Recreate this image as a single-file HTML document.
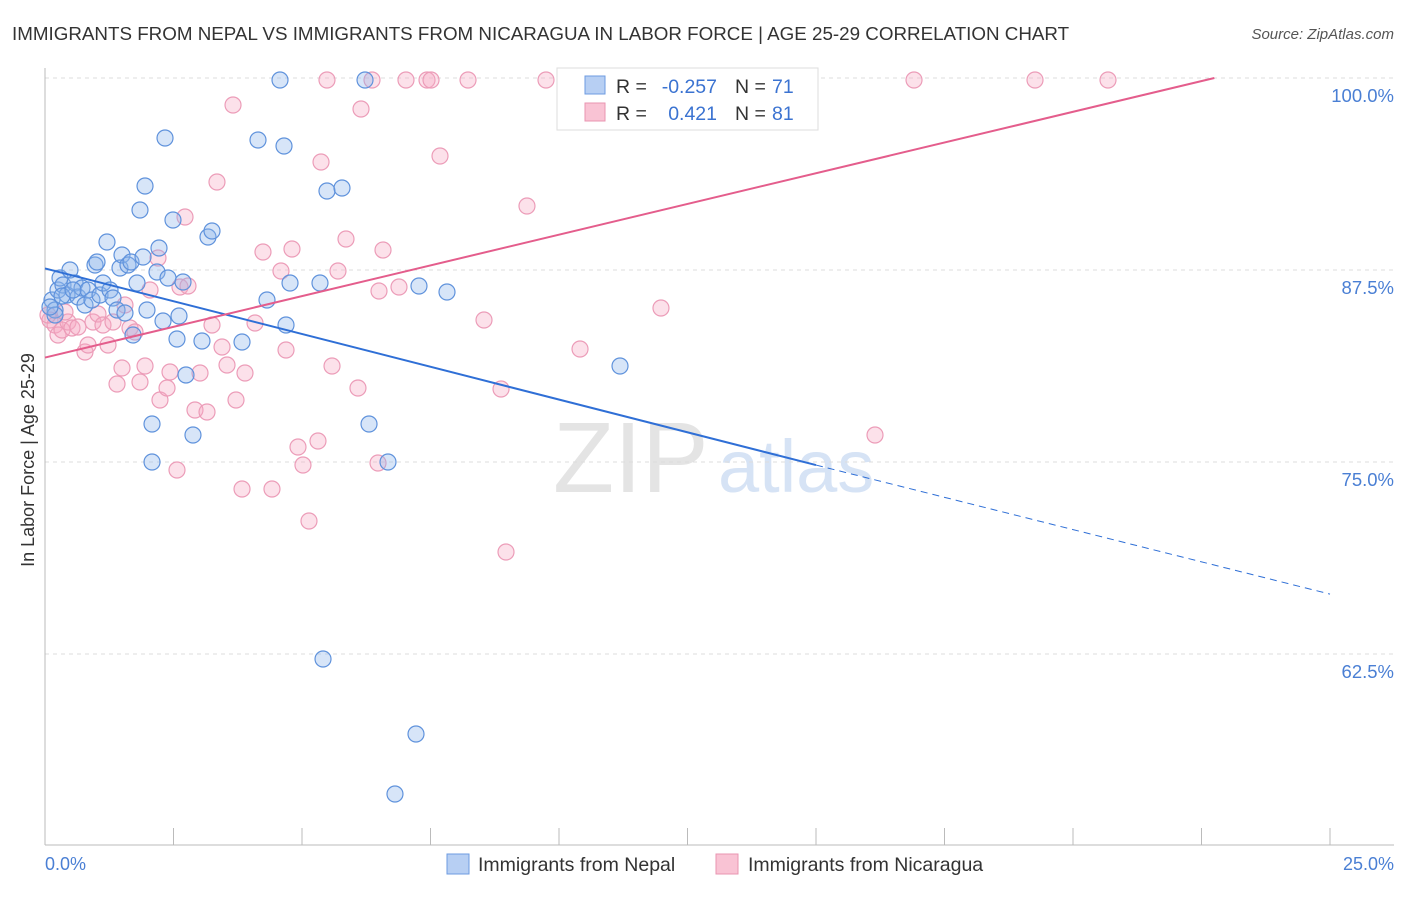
<!DOCTYPE html>
<html><head><meta charset="utf-8"><style>
body{margin:0;background:#fff;font-family:"Liberation Sans",sans-serif;}
svg text{font-family:"Liberation Sans",sans-serif;}
</style></head><body>
<svg id="chart" width="1406" height="892" xmlns="http://www.w3.org/2000/svg">
<text x="12" y="40" font-size="18.8" fill="#333">IMMIGRANTS FROM NEPAL VS IMMIGRANTS FROM NICARAGUA IN LABOR FORCE | AGE 25-29 CORRELATION CHART</text>
<text x="1394" y="39" font-size="15" fill="#555" font-style="italic" text-anchor="end">Source: ZipAtlas.com</text>
<text x="553" y="492" font-size="100" fill="#e4e4e4" font-family="Liberation Serif,serif">ZIP</text>
<text x="718" y="492" font-size="74" fill="#d6e3f5">atlas</text>
<g id="grid"></g><g id="axes"></g><g id="pts"></g><g id="lines"></g>
<text x="34" y="460" font-size="18" fill="#333" transform="rotate(-90 34 460)" text-anchor="middle">In Labor Force | Age 25-29</text>
<text x="45" y="870" font-size="18" fill="#4a7fd4">0.0%</text>
<text x="1394" y="870" font-size="18" fill="#4a7fd4" text-anchor="end">25.0%</text>
<g>
<rect x="557" y="68" width="261" height="62" fill="#fff" stroke="#ddd"/>
<rect x="585" y="76" width="20" height="18" fill="#b7cff3" stroke="#6e9be0"/>
<rect x="585" y="103" width="20" height="18" fill="#f9c3d4" stroke="#e994b1"/>
<text x="616" y="93" font-size="19.5" fill="#333">R =</text>
<text x="717" y="93" font-size="19.5" fill="#3b73d1" text-anchor="end">-0.257</text>
<text x="735" y="93" font-size="19.5" fill="#333">N =</text>
<text x="772" y="93" font-size="19.5" fill="#3b73d1">71</text>
<text x="616" y="120" font-size="19.5" fill="#333">R =</text>
<text x="717" y="120" font-size="19.5" fill="#3b73d1" text-anchor="end">0.421</text>
<text x="735" y="120" font-size="19.5" fill="#333">N =</text>
<text x="772" y="120" font-size="19.5" fill="#3b73d1">81</text>
</g>
<g>
<rect x="447" y="854" width="22" height="20" fill="#b7cff3" stroke="#6e9be0"/>
<text x="478" y="871" font-size="19.5" fill="#333">Immigrants from Nepal</text>
<rect x="716" y="854" width="22" height="20" fill="#f9c3d4" stroke="#e994b1"/>
<text x="748" y="871" font-size="19.5" fill="#333">Immigrants from Nicaragua</text>
</g>
</svg>
<script>
const yTicks=[100,87.5,75,62.5];
const yTickLabels=["100.0%","87.5%","75.0%","62.5%"];
const xTicks=[0,2.5,5,7.5,10,12.5,15,17.5,20,22.5,25];
const nepalPx=[[52,300],[55,310],[58,290],[60,278],[63,285],[67,295],[70,270],[75,283],[78,297],[82,288],[85,305],[88,290],[92,300],[95,265],[97,262],[100,295],[103,283],[107,242],[110,290],[113,298],[117,310],[120,268],[122,255],[125,313],[128,265],[131,262],[133,335],[137,283],[140,210],[143,257],[145,186],[147,310],[152,424],[152,462],[157,272],[159,248],[163,321],[165,138],[168,278],[173,220],[177,339],[179,316],[183,282],[186,375],[193,435],[202,341],[208,237],[212,231],[242,342],[258,140],[267,300],[280,80],[284,146],[286,325],[290,283],[320,283],[323,659],[327,191],[342,188],[365,80],[369,424],[388,462],[395,794],[416,734],[419,286],[447,292],[620,366],[55,315],[62,296],[50,307],[73,290]];
const nicPx=[[50,320],[55,325],[58,335],[62,330],[68,322],[72,328],[78,327],[85,352],[88,345],[93,322],[98,314],[103,325],[108,345],[113,322],[117,384],[122,368],[125,305],[130,328],[135,332],[140,382],[145,366],[150,290],[158,258],[160,400],[167,388],[170,372],[177,470],[180,287],[185,217],[188,286],[195,410],[200,373],[207,412],[212,325],[217,182],[222,347],[227,365],[233,105],[236,400],[242,489],[245,373],[255,323],[263,252],[272,489],[281,271],[286,350],[292,249],[298,447],[303,465],[309,521],[318,441],[321,162],[327,80],[332,366],[338,271],[346,239],[358,388],[361,109],[372,80],[378,463],[379,291],[383,250],[399,287],[406,80],[427,80],[431,80],[440,156],[468,80],[484,320],[501,389],[506,552],[527,206],[546,80],[580,349],[661,308],[875,435],[914,80],[1035,80],[1108,80],[48,315],[65,312]];
const nepalX=nepalPx.map(p=>+((p[0]-45)/1285*25).toFixed(3));
const nepalY=nepalPx.map(p=>+(100-(p[1]-78)/192*12.5).toFixed(3));
const nicX=nicPx.map(p=>+((p[0]-45)/1285*25).toFixed(3));
const nicY=nicPx.map(p=>+(100-(p[1]-78)/192*12.5).toFixed(3));
const nepalTrend=[[0,87.6],[15,74.8],[25,66.4]];
const nicTrend=[[0,81.8],[22.75,100]];
const X=v=>45+v/25*1285, Y=v=>78+(100-v)/12.5*192;
const NS="http://www.w3.org/2000/svg";
function mk(t,a,p){const e=document.createElementNS(NS,t);for(const k in a)e.setAttribute(k,a[k]);p.appendChild(e);return e;}
const grid=document.getElementById('grid'),axes=document.getElementById('axes'),pts=document.getElementById('pts'),lines=document.getElementById('lines');
yTicks.forEach((t,i)=>{
 const l=mk('line',{x1:45,x2:1394,y1:Y(t),y2:Y(t),stroke:'#ddd','stroke-dasharray':'4,4'},grid);
 
 
 const tx=mk('text',{x:1394,y:Y(t)+24,'font-size':18.5,fill:'#4a7fd4','text-anchor':'end'},grid);
 tx.textContent=yTickLabels[i];
 
 
});
const ax=mk('line',{x1:45,x2:1394,y1:845,y2:845,stroke:'#bbb'},axes);


const ay=mk('line',{x1:45,x2:45,y1:68,y2:845,stroke:'#bbb'},axes);


xTicks.forEach(t=>{
 const l=mk('line',{x1:X(t),x2:X(t),y1:828,y2:845,stroke:'#bbb'},axes);
 
 
});
nicX.forEach((x,i)=>{
 const c=mk('circle',{cx:X(x),cy:Y(nicY[i]),r:8,fill:'rgba(245,170,195,0.35)',stroke:'#ec9cb8','stroke-width':1.2},pts);
 
 
});
nepalX.forEach((x,i)=>{
 const c=mk('circle',{cx:X(x),cy:Y(nepalY[i]),r:8,fill:'rgba(140,180,235,0.35)',stroke:'#5f92dc','stroke-width':1.2},pts);
 
 
});
const b1=mk('line',{x1:X(nepalTrend[0][0]),y1:Y(nepalTrend[0][1]),x2:X(nepalTrend[1][0]),y2:Y(nepalTrend[1][1]),stroke:'#2f6fd6','stroke-width':2},lines);


const b2=mk('line',{x1:X(nepalTrend[1][0]),y1:Y(nepalTrend[1][1]),x2:X(nepalTrend[2][0]),y2:Y(nepalTrend[2][1]),stroke:'#2f6fd6','stroke-width':1,'stroke-dasharray':'7,5'},lines);


const p1=mk('line',{x1:X(nicTrend[0][0]),y1:Y(nicTrend[0][1]),x2:X(nicTrend[1][0]),y2:Y(nicTrend[1][1]),stroke:'#e45d8c','stroke-width':2},lines);


</script>
</body></html>
